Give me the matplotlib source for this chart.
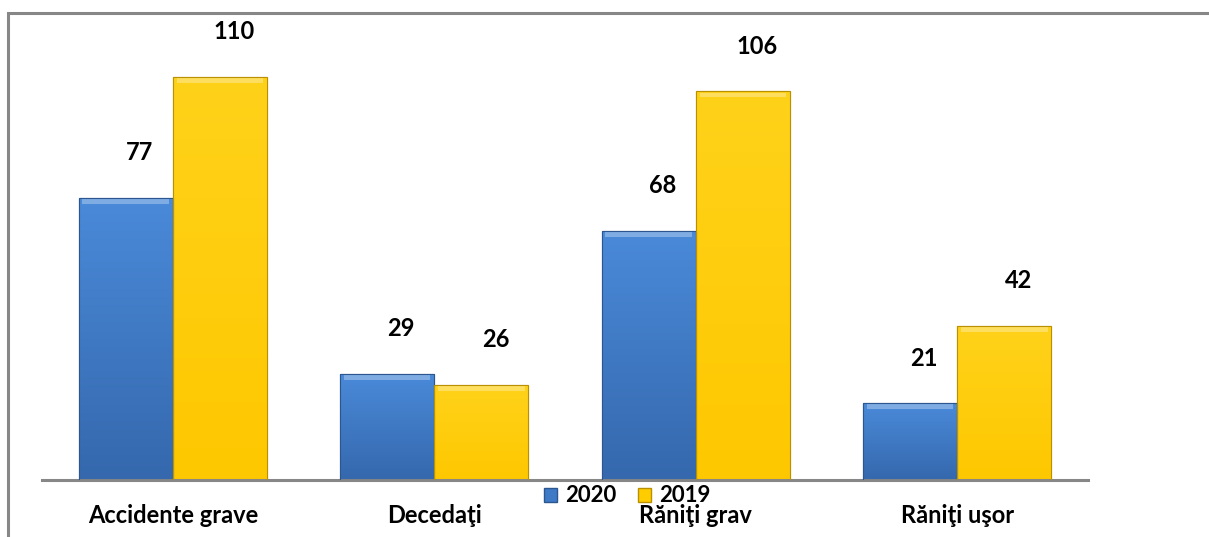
import matplotlib.pyplot as plt
import numpy as np
from matplotlib.patches import Patch, Rectangle

categories = ["Accidente grave", "Decedaţi", "Răniţi grav", "Răniţi uşor"]
years = ["2020", "2019"]
values_2020 = [77, 29, 68, 21]
values_2019 = [110, 26, 106, 42]

W, H = 1209, 537
fig = plt.figure(figsize=(W / 100, H / 100), dpi=100)
plt.rcParams["font.family"] = ["Lato", "DejaVu Sans"]

# outer chart frame
fig.patches.append(Rectangle((8 / W, -0.01), 1.02, 1 - 13 / H + 0.01, transform=fig.transFigure,
                             fill=False, edgecolor="#878787", linewidth=2.2))

ax = fig.add_axes([42 / W, (H - 480) / H, (1088 - 42) / W, 440 / H])
ax.set_xlim(-0.5, len(categories) - 0.5)
ax.set_ylim(0, 120)

x = np.arange(len(categories))
width = 0.36
series = [
    (values_2020, -width / 2, ("#4a8ad9", "#3568ad"), "#2b568f"),
    (values_2019, width / 2, ("#ffd21a", "#fec800"), "#b89000"),
]

for vals, dx, (ctop, cbot), edge in series:
    bars = ax.bar(x + dx, vals, width, color=cbot, edgecolor=edge, linewidth=0.8, zorder=2)
    grad = np.linspace(0, 1, 256).reshape(-1, 1)
    cmap = plt.matplotlib.colors.LinearSegmentedColormap.from_list("g", [cbot, ctop])
    for b, v in zip(bars, vals):
        bx, bw, bh = b.get_x(), b.get_width(), b.get_height()
        im = ax.imshow(grad, extent=(bx, bx + bw, 0, bh), origin="lower", cmap=cmap,
                       aspect="auto", zorder=2.5)
        im.set_clip_path(b)
        # bevel highlight on top
        ax.add_patch(Rectangle((bx + bw * 0.04, bh - 1.6), bw * 0.92, 1.2,
                               color="white", alpha=0.3, linewidth=0, zorder=3))
        ax.add_patch(Rectangle((bx, 0), bw, bh, fill=False, edgecolor=edge,
                               linewidth=0.8, zorder=3.5))
        ax.annotate(f"{v}", (bx + bw / 2, bh), xytext=(14, 45),
                    textcoords="offset pixels", ha="center", va="center",
                    fontsize=17, fontweight="bold", color="black")

ax.set_xticks(x)
ax.set_xticklabels(categories, fontsize=17, fontweight="bold")
ax.tick_params(axis="x", length=0, pad=17)
ax.set_yticks([])
for s in ["top", "right", "left"]:
    ax.spines[s].set_visible(False)
ax.spines["bottom"].set_color("#878787")
ax.spines["bottom"].set_linewidth(2.2)
ax.set_facecolor("none")

handles = [Patch(facecolor="#3e7ac6", edgecolor="#2b568f"),
           Patch(facecolor="#ffcc00", edgecolor="#b89000")]
fig.legend(handles, years, loc="center left", bbox_to_anchor=(528 / W, 1 - 496 / H),
           ncol=2, frameon=False, handlelength=0.6, handleheight=0.6, handletextpad=0.35,
           columnspacing=1.0, borderpad=0.2, prop={"size": 16, "weight": "bold"})

fig.savefig("out.png", dpi=100)
